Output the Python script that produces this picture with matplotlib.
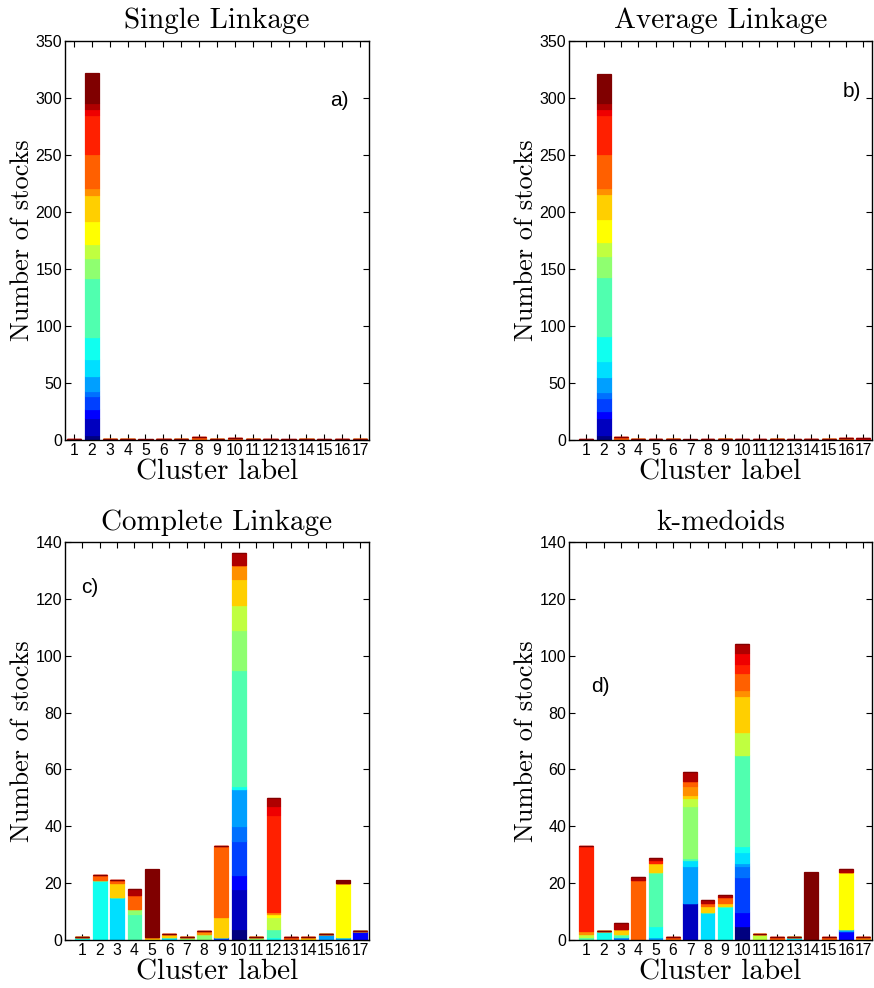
import numpy as np
import matplotlib
matplotlib.use("Agg")
import matplotlib.pyplot as plt

# ---------------- data ----------------
clusters = list(range(1, 18))

# colour of each industrial sector (stack order bottom -> top)
sector_colors = ['#000080', '#0000BF', '#0000FF', '#0040FF', '#0070FF', '#009FFF',
                 '#00DFFF', '#10FFEF', '#50FFAF', '#8FFF70', '#C0FF40', '#FFFF00',
                 '#FFCF00', '#FF9000', '#FF6000', '#FF2000', '#EF0000', '#AF0000',
                 '#800000']

# number of stocks of each sector in each cluster  {sector index: count}
single_linkage = [
    {15: 1},
    {0: 4, 1: 15, 2: 8, 3: 12, 4: 4, 5: 13, 6: 15, 7: 19, 8: 52, 9: 18, 10: 12,
     11: 20, 12: 23, 13: 6, 14: 30, 15: 34, 16: 5, 17: 6, 18: 26},
    {10: 1}, {10: 1}, {17: 1}, {13: 1}, {10: 1}, {14: 3}, {10: 1},
    {5: 1, 14: 1}, {10: 1}, {14: 1}, {16: 1}, {10: 1}, {16: 1}, {14: 1}, {10: 1},
]

average_linkage = [
    {16: 1},
    {0: 4, 1: 15, 2: 6, 3: 12, 4: 5, 5: 13, 6: 14, 7: 22, 8: 52, 9: 18, 10: 13,
     11: 20, 12: 22, 13: 5, 14: 30, 15: 34, 16: 5, 17: 6, 18: 25},
    {14: 3}, {10: 1}, {14: 1}, {10: 1}, {17: 1}, {15: 1}, {10: 1}, {15: 1},
    {15: 1}, {10: 1}, {16: 1}, {14: 1}, {10: 1}, {5: 1, 14: 1}, {2: 1, 16: 1},
]

complete_linkage = [
    {7: 1},
    {7: 21, 14: 2},
    {6: 15, 12: 5, 14: 1},
    {8: 9, 9: 2, 14: 5, 17: 2},
    {12: 1, 18: 24},
    {6: 1, 12: 1},
    {9: 1},
    {9: 2, 13: 1},
    {3: 1, 12: 7, 14: 25},
    {0: 4, 1: 14, 2: 5, 3: 12, 4: 5, 5: 13, 7: 1, 8: 41, 9: 14, 10: 9, 12: 9,
     13: 5, 17: 4},
    {9: 1},
    {7: 1, 8: 3, 10: 4, 11: 1, 13: 1, 15: 34, 16: 3, 17: 3},
    {14: 1},
    {12: 1},
    {5: 2},
    {5: 1, 11: 19, 18: 1},
    {2: 3},
]

k_medoids = [
    {8: 1, 10: 1, 13: 1, 15: 30},
    {7: 3},
    {4: 1, 8: 1, 12: 2, 17: 2},
    {14: 21, 17: 1},
    {5: 1, 7: 4, 8: 19, 12: 3, 15: 1, 17: 1},
    {14: 1},
    {1: 13, 5: 13, 6: 2, 8: 1, 9: 18, 10: 3, 12: 1, 13: 3, 14: 2, 17: 3},
    {6: 10, 12: 2, 14: 1, 17: 1},
    {7: 12, 12: 1, 14: 2, 17: 1},
    {0: 5, 2: 5, 3: 12, 4: 4, 5: 1, 6: 4, 7: 2, 8: 32, 10: 8, 12: 13, 13: 2,
     14: 6, 15: 3, 16: 4, 17: 3},
    {10: 2},
    {14: 1},
    {6: 1},
    {18: 24},
    {14: 1},
    {2: 3, 5: 1, 11: 20, 17: 1},
    {13: 1},
]

titles = ['Single Linkage', 'Average Linkage', 'Complete Linkage', 'k-medoids']
panel_tags = ['a)', 'b)', 'c)', 'd)']
y_max = [350, 350, 140, 140]
y_step = [50, 50, 20, 20]

# ---------------- drawing ----------------
W, H = 874, 988
fig = plt.figure(figsize=(W / 100, H / 100), dpi=100)

serif = 'cmr10'
sans = 'Liberation Sans'

boxes = [(65, 41, 369, 440), (569, 41, 872, 440),
         (65, 542, 369, 940), (569, 542, 872, 940)]
xlims = [(0.5, 17.5), (0, 17.5), (0, 17.5), (0, 17.5)]
tag_pos = [(15.3, 298), (15.8, 306), (0.9, 124), (1.25, 89)]

datasets = [single_linkage, average_linkage, complete_linkage, k_medoids]

for i, data in enumerate(datasets):
    l, t, r, b = boxes[i]
    ax = fig.add_axes([l / W, 1 - b / H, (r - l) / W, (b - t) / H])
    n_sec = len(sector_colors)
    mat = np.zeros((len(clusters), n_sec))
    for ci, d in enumerate(data):
        for s, v in d.items():
            mat[ci, s] = v
    bottom = np.zeros(len(clusters))
    for s in range(n_sec):
        ax.bar(clusters, mat[:, s], bottom=bottom, width=0.8,
               color=sector_colors[s], edgecolor=sector_colors[s],
               linewidth=0.9, zorder=2)
        bottom = bottom + mat[:, s]

    ax.set_xlim(*xlims[i])
    ax.set_ylim(0, y_max[i])
    ax.set_xticks(clusters)
    ax.set_xticklabels([str(c) for c in clusters], fontfamily=sans, fontsize=11.3)
    yt = np.arange(0, y_max[i] + 1, y_step[i])
    ax.set_yticks(yt)
    ax.set_yticklabels([str(v) for v in yt], fontfamily=sans, fontsize=11.5)
    ax.tick_params(direction='in', length=4, width=0.8, top=True, right=True,
                   pad=2, colors='black')
    for sp in ax.spines.values():
        sp.set_linewidth(1.0)
        sp.set_zorder(5)
    ax.set_title(titles[i], fontfamily=serif, fontsize=21, pad=9)
    ax.set_xlabel('Cluster label', fontfamily=serif, fontsize=21, labelpad=1)
    ax.set_ylabel('Number of stocks', fontfamily=serif, fontsize=19, labelpad=1)
    ax.text(tag_pos[i][0], tag_pos[i][1], panel_tags[i], fontfamily=sans,
            fontsize=15, va='center', ha='left')

fig.savefig('out.png', dpi=100)
